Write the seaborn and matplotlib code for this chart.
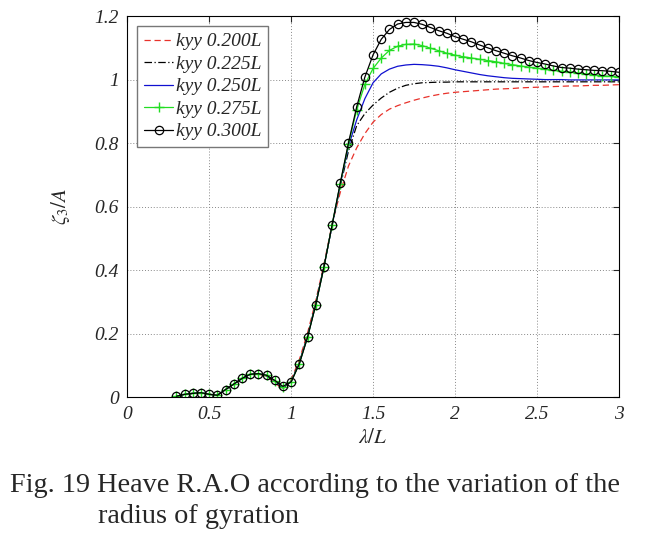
import matplotlib
matplotlib.use("Agg")
import matplotlib.pyplot as plt
import seaborn as sns
import pandas as pd

# wave length ratio, same grid for every curve
lam = [0.30, 0.35, 0.40, 0.45, 0.50, 0.55, 0.60, 0.65, 0.70, 0.75,
       0.80, 0.85, 0.90, 0.95, 1.00, 1.05, 1.10, 1.15, 1.20, 1.25,
       1.30, 1.35, 1.40, 1.45, 1.50, 1.55, 1.60, 1.65, 1.70, 1.75,
       1.80, 1.85, 1.90, 1.95, 2.00, 2.05, 2.10, 2.15, 2.20, 2.25,
       2.30, 2.35, 2.40, 2.45, 2.50, 2.55, 2.60, 2.65, 2.70, 2.75,
       2.80, 2.85, 2.90, 2.95, 3.00]

kyy_200 = [0.003, 0.009, 0.012, 0.014, 0.009, 0.006, 0.024, 0.041, 0.059, 0.072,
           0.073, 0.066, 0.046, 0.024, 0.055, 0.118, 0.202, 0.303, 0.418, 0.545,
           0.645, 0.728, 0.785, 0.830, 0.866, 0.890, 0.907, 0.918, 0.927, 0.935,
           0.942, 0.948, 0.953, 0.957, 0.960, 0.962, 0.964, 0.966, 0.968, 0.970,
           0.971, 0.972, 0.974, 0.975, 0.976, 0.977, 0.978, 0.979, 0.980, 0.980,
           0.981, 0.982, 0.982, 0.983, 0.984]
kyy_225 = [0.003, 0.009, 0.012, 0.014, 0.009, 0.006, 0.024, 0.041, 0.059, 0.072,
           0.074, 0.067, 0.049, 0.028, 0.050, 0.110, 0.193, 0.295, 0.412, 0.540,
           0.665, 0.775, 0.855, 0.893, 0.920, 0.942, 0.960, 0.973, 0.982, 0.987,
           0.990, 0.991, 0.992, 0.992, 0.993, 0.993, 0.993, 0.993, 0.993, 0.993,
           0.993, 0.993, 0.993, 0.993, 0.993, 0.993, 0.993, 0.993, 0.993, 0.993,
           0.993, 0.993, 0.993, 0.993, 0.993]
kyy_250 = [0.003, 0.009, 0.012, 0.014, 0.009, 0.006, 0.024, 0.041, 0.059, 0.072,
           0.074, 0.068, 0.051, 0.030, 0.049, 0.107, 0.190, 0.292, 0.410, 0.541,
           0.670, 0.790, 0.873, 0.940, 0.990, 1.018, 1.033, 1.042, 1.046, 1.048,
           1.047, 1.045, 1.042, 1.037, 1.031, 1.026, 1.021, 1.016, 1.012, 1.009,
           1.006, 1.004, 1.003, 1.002, 1.001, 1.000, 1.000, 1.000, 0.999, 0.999,
           0.999, 0.999, 0.999, 0.999, 0.999]
kyy_275 = [0.003, 0.009, 0.012, 0.014, 0.009, 0.006, 0.024, 0.041, 0.059, 0.072,
           0.074, 0.069, 0.052, 0.032, 0.048, 0.106, 0.189, 0.291, 0.409, 0.543,
           0.672, 0.797, 0.905, 0.985, 1.035, 1.068, 1.092, 1.105, 1.111, 1.112,
           1.107, 1.099, 1.091, 1.083, 1.077, 1.072, 1.068, 1.064, 1.060, 1.056,
           1.051, 1.047, 1.043, 1.039, 1.036, 1.032, 1.029, 1.026, 1.024, 1.021,
           1.018, 1.015, 1.012, 1.010, 1.007]
kyy_300 = [0.003, 0.009, 0.012, 0.014, 0.009, 0.006, 0.024, 0.041, 0.059, 0.072,
           0.074, 0.069, 0.053, 0.034, 0.048, 0.105, 0.188, 0.290, 0.409, 0.542,
           0.675, 0.801, 0.914, 1.008, 1.078, 1.127, 1.158, 1.175, 1.180, 1.180,
           1.174, 1.164, 1.154, 1.146, 1.135, 1.127, 1.119, 1.109, 1.100, 1.091,
           1.083, 1.075, 1.068, 1.060, 1.054, 1.049, 1.043, 1.038, 1.036, 1.033,
           1.031, 1.029, 1.028, 1.026, 1.023]

labels = ["kyy 0.200L", "kyy 0.225L", "kyy 0.250L", "kyy 0.275L", "kyy 0.300L"]
x_ticks = [0, 0.5, 1, 1.5, 2, 2.5, 3]
y_ticks = [0, 0.2, 0.4, 0.6, 0.8, 1, 1.2]
caption = ["Fig. 19 Heave R.A.O according to the variation of the",
           "radius of gyration"]

sns.set_style("white")
plt.rcParams["font.family"] = ["Liberation Serif", "DejaVu Serif"]
plt.rcParams["mathtext.fontset"] = "stix"

# line style per series: (color, linestyle, marker)
styles = [
    ("#e8322b", (0, (5, 3)), None),
    ("black", (0, (6, 2, 1, 2)), None),
    ("#1010d0", "-", None),
    ("#22dd22", "-", "+"),
    ("black", "-", "o"),
]

fig = plt.figure(figsize=(6.46, 5.36), dpi=100)
ax = fig.add_axes([0.197, 0.259, 0.761, 0.711])

for lab, ys, (col, ls, mk) in zip(labels, [kyy_200, kyy_225, kyy_250, kyy_275, kyy_300], styles):
    df = pd.DataFrame({"lam": lam, "rao": ys})
    kw = dict(color=col, linestyle=ls, linewidth=0.9, label=lab)
    if mk == "o":
        kw.update(marker="o", markersize=6, markerfacecolor="none",
                  markeredgecolor="black", markeredgewidth=0.9)
    elif mk == "+":
        kw.update(marker="+", markersize=7, markeredgecolor=col,
                  markeredgewidth=1.0)
    sns.lineplot(data=df, x="lam", y="rao", ax=ax, sort=False, **kw)

ax.set_xlim(0, 3)
ax.set_ylim(0, 1.2)
ax.set_xticks(x_ticks)
ax.set_yticks(y_ticks)
ax.set_xticklabels([f"{t:g}" for t in x_ticks], fontstyle="italic", fontsize=14)
ax.set_yticklabels([f"{t:g}" for t in y_ticks], fontstyle="italic", fontsize=14)
ax.tick_params(direction="in", length=4, top=True, right=True, pad=6)
ax.grid(True, linestyle=(0, (1, 2)), color="#888888", linewidth=0.7)
for s in ax.spines.values():
    s.set_color("black")
    s.set_linewidth(0.8)

ax.set_xlabel(r"$\lambda/L$", fontsize=15, labelpad=5)
ax.set_ylabel(r"$\zeta_3/A$", fontsize=15, labelpad=16)

leg = ax.legend(loc="upper left", bbox_to_anchor=(10 / 492, 1 - 10 / 381),
                borderaxespad=0, fancybox=False, framealpha=1,
                edgecolor="#777777", handlelength=1.5, handletextpad=0.15,
                borderpad=0.35, labelspacing=0.25,
                prop={"family": "Liberation Serif", "style": "italic", "size": 14})
leg.get_frame().set_linewidth(1.0)

fig.text(0.016, 0.095, caption[0], fontsize=20.3, ha="left", va="center")
fig.text(0.152, 0.037, caption[1], fontsize=20.3, ha="left", va="center")

fig.savefig("out.png", dpi=100)
